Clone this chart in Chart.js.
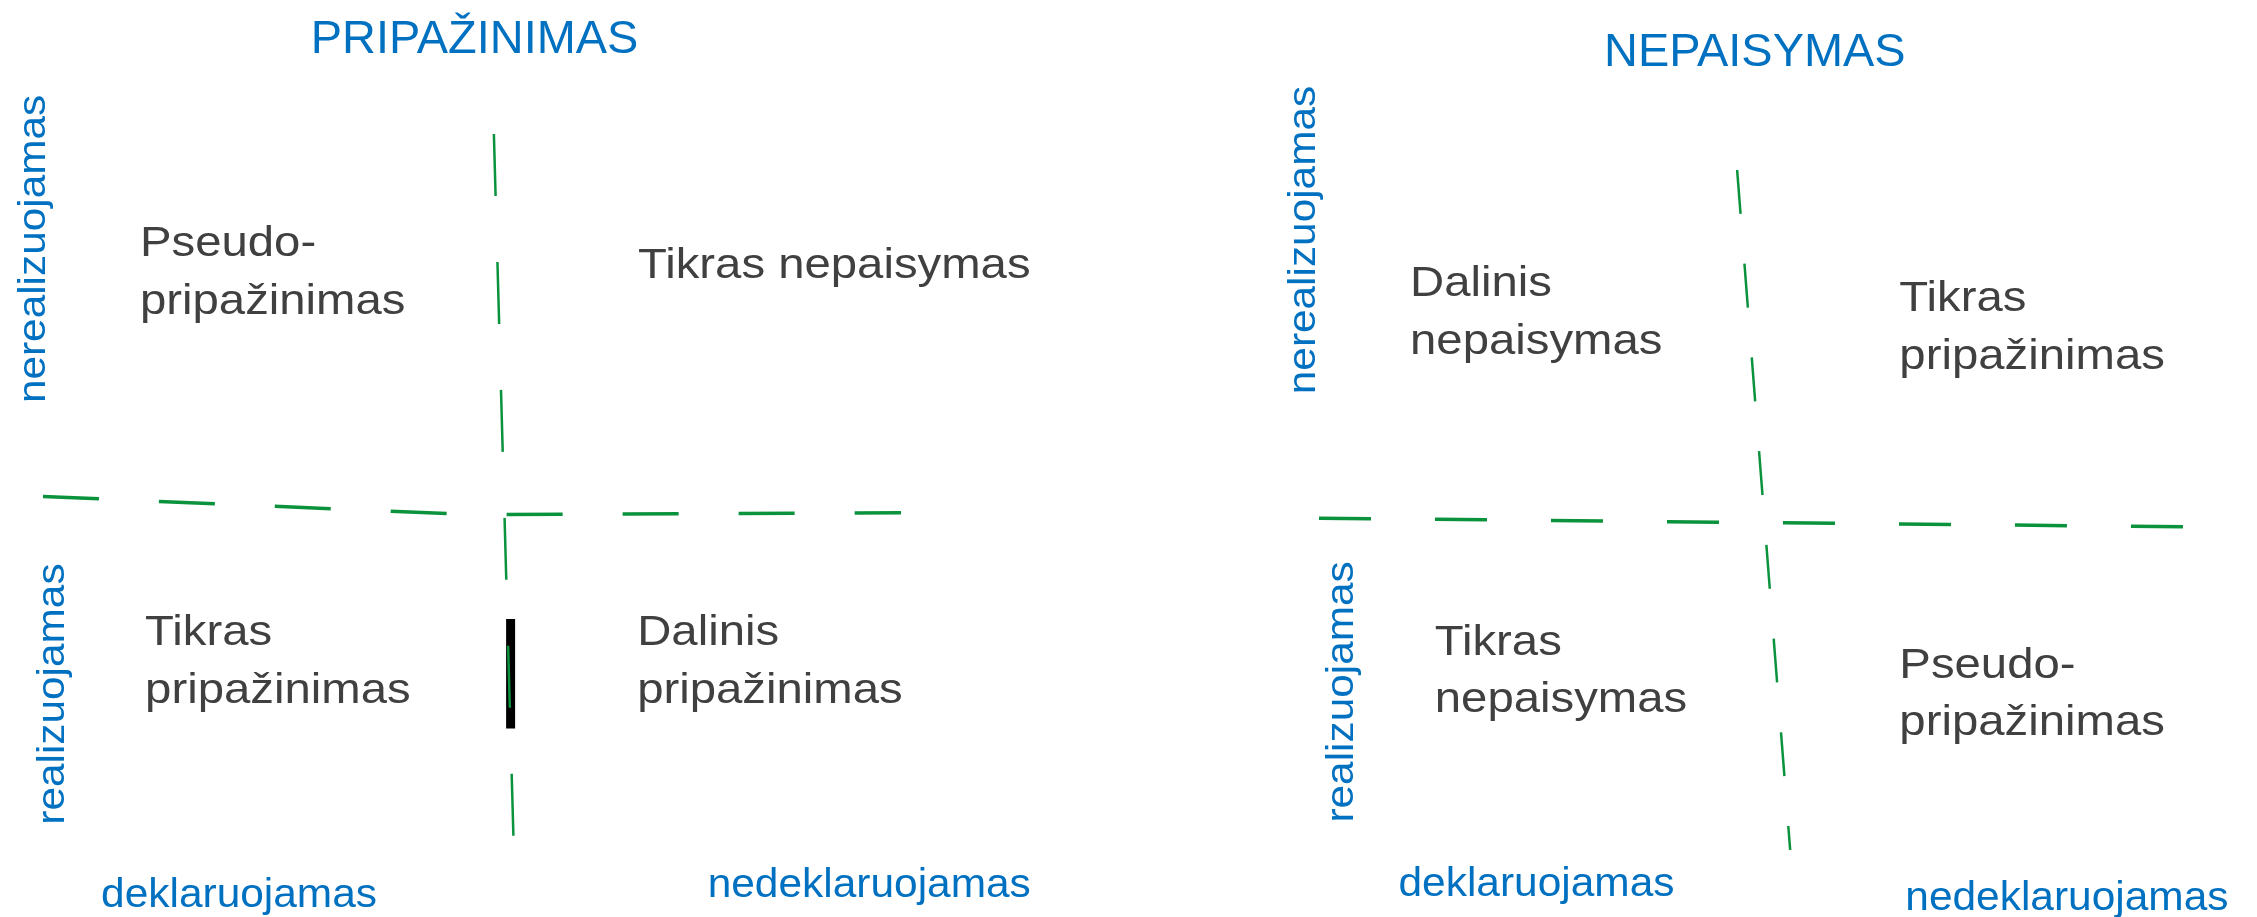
<!DOCTYPE html>
<html>
<head>
<meta charset="utf-8">
<script src="https://cdn.jsdelivr.net/npm/chart.js@4.4.1/dist/chart.umd.min.js"></script>
<style>
  body { margin: 0; background: #fff; width: 2257px; height: 917px; overflow: hidden; position: relative; }
  canvas { position: absolute; top: 0; }
</style>
</head>
<body>
<canvas id="kaire" width="1128" height="917" style="left:0"></canvas>
<canvas id="desine" width="1129" height="917" style="left:1128px"></canvas>
<script>
// diagramos reiksmes (kvadrantai, kiekviena asis 0..2, skirtukas ties 1)
const pavadinimai = ['PRIPAŽINIMAS', 'NEPAISYMAS'];
const xKategorijos = ['deklaruojamas', 'nedeklaruojamas'];
const yKategorijos = ['realizuojamas', 'nerealizuojamas'];

// kvadrantai: apacia kaire, apacia desine, virsus kaire, virsus desine
const kvadrantaiKaire = [['Tikras', 'pripažinimas'], ['Dalinis', 'pripažinimas'], ['Pseudo-', 'pripažinimas'], ['Tikras nepaisymas']];
const kvadrantaiDesine = [['Tikras', 'nepaisymas'], ['Pseudo-', 'pripažinimas'], ['Dalinis', 'nepaisymas'], ['Tikras', 'pripažinimas']];

// skiriamosios linijos
const horizKaire = [{x: 0, y: 1.0}, {x: 1, y: 0.95}, {x: 2, y: 0.955}];
const vertKaire = [{x: 1.051, y: 2}, {x: 1.098, y: 0}];
const juostaKaire = [{x: 1.09, y: 0.662}, {x: 1.09, y: 0.36}];
const horizDesine = [{x: 0, y: 0.976}, {x: 2, y: 0.95}];
const vertDesine = [{x: 0.946, y: 2}, {x: 1.066, y: 0}];

const MELYNA = '#0070C0';
const PILKA = '#404040';
const ZALIA = '#0b923c';
const SRIFTAS = "'Liberation Sans', Arial, sans-serif";

// teksto isdestymas (vienetais pagal asis)
const isdestymas = [
  {
    padding: {left: 43, right: 227, top: 134, bottom: 58},
    pavadinimas: [1.006, 2.223],
    kvadrantai: [[0.238, 0.590], [1.385, 0.590], [0.226, 1.663], [1.387, 1.603]],
    yZymes: [[0.049, 0.455], [0.0047, 1.683]],
    xZymes: [[0.457, -0.132], [1.926, -0.105]]
  },
  {
    padding: {left: 191, right: 54, top: 170, bottom: 67},
    pavadinimas: [0.986, 2.306],
    kvadrantai: [[0.262, 0.574], [1.313, 0.506], [0.206, 1.629], [1.313, 1.585]],
    yZymes: [[0.077, 0.465], [-0.009, 1.794]],
    xZymes: [[0.492, -0.135], [1.692, -0.176]]
  }
];

function rasyti(ctx, tekstas, px, py, dydis, spalva, sx, lygiuote, kampas) {
  ctx.save();
  ctx.translate(px, py);
  if (kampas) ctx.rotate(kampas);
  ctx.scale(sx, 1);
  ctx.font = dydis + 'px ' + SRIFTAS;
  ctx.fillStyle = spalva;
  ctx.textAlign = lygiuote;
  ctx.textBaseline = 'alphabetic';
  ctx.fillText(tekstas, 0, 0);
  ctx.restore();
}

const tekstuPluginas = {
  id: 'tekstai',
  afterDraw(chart, args, opts) {
    const {ctx} = chart;
    const x = chart.scales.x, y = chart.scales.y;
    const l = opts.isd;
    const px = v => x.getPixelForValue(v);
    const py = v => y.getPixelForValue(v);

    rasyti(ctx, opts.pavadinimas, px(l.pavadinimas[0]), py(l.pavadinimas[1]), 46, MELYNA, 1.02, 'center');

    opts.kvadrantai.forEach((eilutes, i) => {
      const p = l.kvadrantai[i];
      eilutes.forEach((e, j) => {
        rasyti(ctx, e, px(p[0]), py(p[1]) + j * 57.5, 43, PILKA, 1.1, 'left');
      });
    });

    yKategorijos.forEach((t, i) => {
      const p = l.yZymes[i];
      rasyti(ctx, t, px(p[0]), py(p[1]), 38.5, MELYNA, 1.1, 'center', -Math.PI / 2);
    });
    xKategorijos.forEach((t, i) => {
      const p = l.xZymes[i];
      rasyti(ctx, t, px(p[0]), py(p[1]), 41, MELYNA, 1.035, 'center');
    });
  }
};

function linija(duom, plotis, bruksnys, spalva) {
  return {
    data: duom,
    showLine: true,
    borderColor: spalva || ZALIA,
    borderWidth: plotis,
    borderDash: bruksnys || [],
    borderCapStyle: 'butt',
    pointRadius: 0,
    clip: false
  };
}

function piesti(id, n, rinkiniai, kvadrantai) {
  const l = isdestymas[n];
  return new Chart(document.getElementById(id), {
    type: 'scatter',
    data: {datasets: rinkiniai},
    options: {
      responsive: false,
      animation: false,
      devicePixelRatio: 1,
      layout: {padding: l.padding},
      scales: {
        x: {type: 'linear', min: 0, max: 2, display: false},
        y: {type: 'linear', min: 0, max: 2, display: false}
      },
      plugins: {
        legend: {display: false},
        tooltip: {enabled: false},
        tekstai: {isd: l, pavadinimas: pavadinimai[n], kvadrantai: kvadrantai}
      }
    },
    plugins: [tekstuPluginas]
  });
}

piesti('kaire', 0, [
  linija(horizKaire, 3.5, [56, 60]),
  linija(vertKaire, 2.5, [62, 66]),
  linija(juostaKaire, 9, [], '#000000')
], kvadrantaiKaire);

piesti('desine', 1, [
  linija(horizDesine, 3.5, [52, 64]),
  linija(vertDesine, 2.5, [44, 50])
], kvadrantaiDesine);
</script>
</body>
</html>
